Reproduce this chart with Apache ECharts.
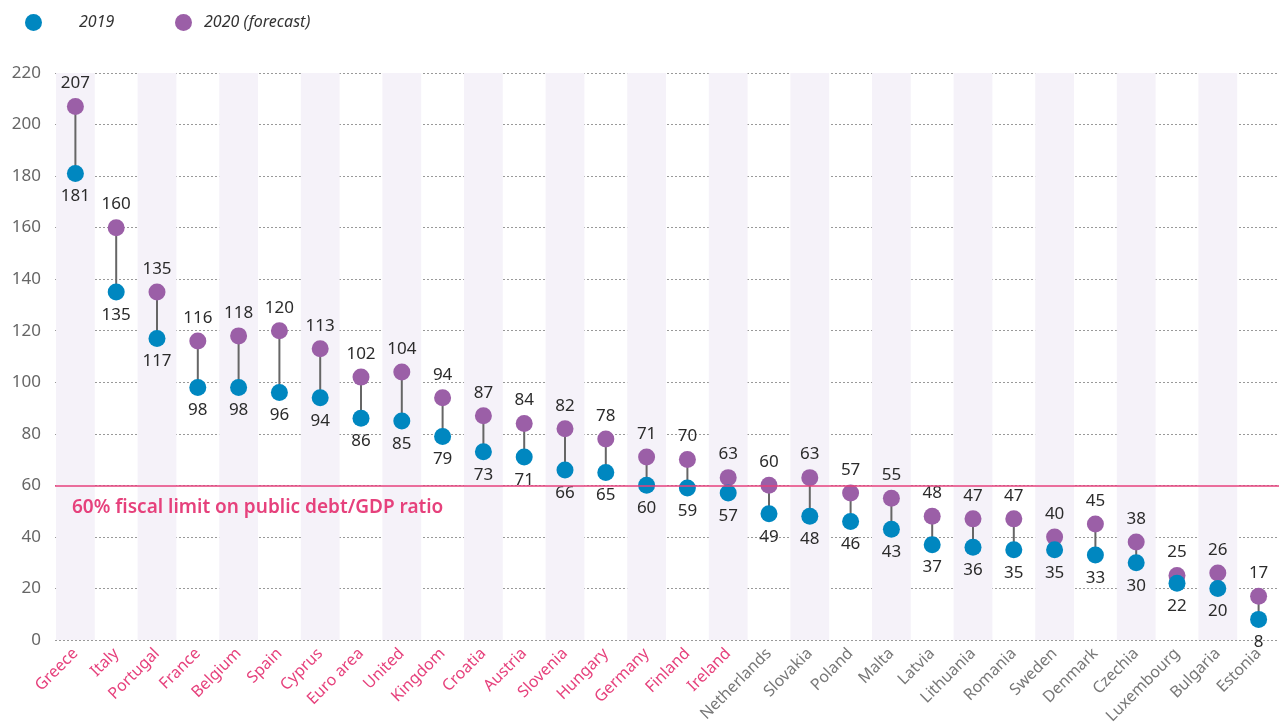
<!DOCTYPE html>
<html lang="en">
<head>
	<meta charset="UTF-8">
	<title>Public debt/GDP ratio</title>
	<style>
		html, body { margin: 0; padding: 0; background: #fff; }
	</style>
</head>
<body>
	<div id="chart" style="width: 1284px;height:724px;"></div>
	<script src="https://cdn.jsdelivr.net/npm/echarts@6/dist/echarts.min.js"></script>
	<script>
		// data
		var countries = ['Greece', 'Italy', 'Portugal', 'France', 'Belgium', 'Spain', 'Cyprus', 'Euro area',
			'United', 'Kingdom', 'Croatia', 'Austria', 'Slovenia', 'Hungary', 'Germany', 'Finland', 'Ireland',
			'Netherlands', 'Slovakia', 'Poland', 'Malta', 'Latvia', 'Lithuania', 'Romania', 'Sweden',
			'Denmark', 'Czechia', 'Luxembourg', 'Bulgaria', 'Estonia'];
		var debt2019 = [181, 135, 117, 98, 98, 96, 94, 86, 85, 79, 73, 71, 66, 65, 60, 59, 57,
			49, 48, 46, 43, 37, 36, 35, 35, 33, 30, 22, 20, 8];
		var debt2020 = [207, 160, 135, 116, 118, 120, 113, 102, 104, 94, 87, 84, 82, 78, 71, 70, 63,
			60, 63, 57, 55, 48, 47, 47, 40, 45, 38, 25, 26, 17];
		var yTicks = [0, 20, 40, 60, 80, 100, 120, 140, 160, 180, 200, 220];
		var fiscalLimit = 60;
		var lastPink = 16; // labels up to Ireland are pink

		var blue = '#0087c0';
		var purple = '#9b5fa7';
		var pink = '#e6417c';
		var font = 'Noto Sans';

		var myChart = echarts.init(document.getElementById('chart'));

		// shaded band on every other column
		var bands = countries.map(function (c, i) {
			return i % 2 === 0 ? yTicks[yTicks.length - 1] : '-';
		});

		var legendText = { fontSize: 16, fontStyle: 'italic', color: '#333', fontFamily: font };

		var option = {
			animation: false,
			textStyle: { fontFamily: font },
			legend: [
				{
					left: 20,
					top: 9,
					itemWidth: 17,
					itemHeight: 17,
					icon: 'circle',
					itemStyle: { opacity: 1 },
					textStyle: Object.assign({ padding: [0, 0, 0, 32] }, legendText),
					data: ['2019']
				},
				{
					left: 170,
					top: 9,
					itemWidth: 17,
					itemHeight: 17,
					icon: 'circle',
					itemStyle: { opacity: 1 },
					textStyle: Object.assign({ padding: [0, 0, 0, 7] }, legendText),
					data: ['2020 (forecast)']
				}
			],
			grid: { left: 55, right: 5, top: 73, bottom: 84, outerBoundsMode: 'none', containLabel: false },
			xAxis: {
				type: 'category',
				data: countries,
				axisLine: { show: false },
				axisTick: { show: false },
				axisLabel: {
					rotate: 45,
					interval: 0,
					margin: 11,
					formatter: function (v, i) {
						return (i <= lastPink ? '{p|' : '{g|') + v + '}';
					},
					rich: {
						p: { color: pink, fontSize: 16, fontFamily: font },
						g: { color: '#777', fontSize: 16, fontFamily: font }
					}
				}
			},
			yAxis: {
				type: 'value',
				min: 0,
				max: 220,
				interval: 20,
				axisLine: { show: false },
				axisTick: { show: false },
				axisLabel: { color: '#666', fontSize: 17, margin: 14, fontFamily: font },
				splitLine: { lineStyle: { type: [2, 2], color: '#999', width: 1 } }
			},
			series: [
				{
					type: 'bar',
					data: bands,
					barWidth: '95%',
					silent: true,
					itemStyle: { color: '#f5f2f9' },
					z: 0,
					markLine: {
						silent: true,
						symbol: 'none',
						lineStyle: { color: pink, width: 1.5, type: 'solid' },
						label: {
							position: 'insideStartBottom',
							formatter: '60% fiscal limit on public debt/GDP ratio',
							color: pink,
							fontSize: 19,
							fontWeight: 600,
							fontFamily: font,
							distance: [17, 13]
						},
						data: [{ yAxis: fiscalLimit }]
					}
				},
				{
					type: 'custom',
					silent: true,
					z: 2,
					data: countries.map(function (c, i) { return [i, debt2019[i], debt2020[i]]; }),
					renderItem: function (params, api) {
						var a = api.coord([api.value(0), api.value(1)]);
						var b = api.coord([api.value(0), api.value(2)]);
						return {
							type: 'line',
							shape: { x1: a[0], y1: a[1], x2: b[0], y2: b[1] },
							style: { stroke: '#666', lineWidth: 2 }
						};
					}
				},
				{
					name: '2020 (forecast)',
					type: 'scatter',
					data: debt2020,
					symbolSize: 17,
					itemStyle: { color: purple, opacity: 1 },
					z: 3,
					label: {
						show: true,
						position: 'top',
						distance: 6,
						color: '#2b2b2b',
						fontSize: 17,
						fontFamily: font
					}
				},
				{
					name: '2019',
					type: 'scatter',
					data: debt2019,
					symbolSize: 17,
					itemStyle: { color: blue, opacity: 1 },
					z: 4,
					label: {
						show: true,
						position: 'bottom',
						distance: 6,
						color: '#2b2b2b',
						fontSize: 17,
						fontFamily: font
					}
				}
			]
		};

		myChart.setOption(option);
	</script>
</body>
</html>
